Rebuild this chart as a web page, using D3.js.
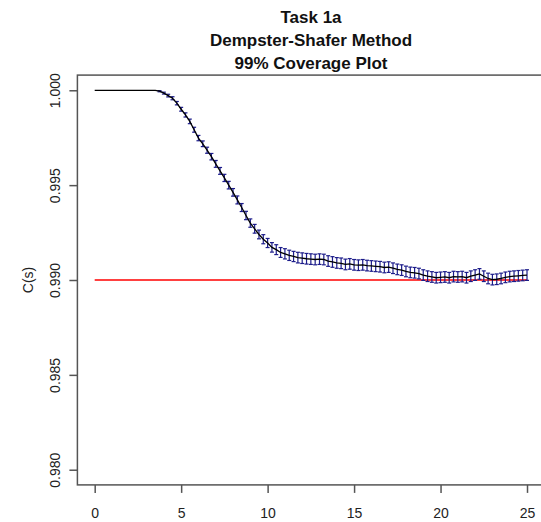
<!DOCTYPE html>
<html>
<head>
<meta charset="utf-8">
<script src="https://cdn.jsdelivr.net/npm/d3@7"></script>
<style>
  body { margin: 0; background: #fff; }
  svg { display: block; font-family: "Liberation Sans", Arial, sans-serif; }
</style>
</head>
<body>
<svg id="chart" width="541" height="522"></svg>
<script>
// coverage values, one every 0.25 from s = 0 to s = 25
var step = 0.25;
var coverage = [
  1.00000, 1.00000, 1.00000, 1.00000, 1.00000, 1.00000, 1.00000, 1.00000,
  1.00000, 1.00000, 1.00000, 1.00000, 1.00000, 1.00000, 1.00000,
  0.99995, 0.99985, 0.99972, 0.99958, 0.99932, 0.99900, 0.99870, 0.99836,
  0.99792, 0.99748, 0.99718, 0.99684, 0.99650, 0.99612, 0.99575, 0.99538,
  0.99500, 0.99462, 0.99422, 0.99382, 0.99340, 0.99300, 0.99270, 0.99240,
  0.99215, 0.99195, 0.99172, 0.99160, 0.99145, 0.99138, 0.99130, 0.99124,
  0.99118, 0.99115, 0.99112, 0.99110, 0.99108, 0.99110, 0.99108, 0.99100,
  0.99095, 0.99090, 0.99088, 0.99082, 0.99085, 0.99080, 0.99078, 0.99080,
  0.99076, 0.99074, 0.99072, 0.99070, 0.99066, 0.99068, 0.99062, 0.99056,
  0.99052, 0.99045, 0.99040, 0.99038, 0.99034, 0.99026, 0.99020, 0.99016,
  0.99012, 0.99014, 0.99016, 0.99012, 0.99018, 0.99016, 0.99018, 0.99012,
  0.99020, 0.99026, 0.99032, 0.99020, 0.99008, 0.99002, 0.99004, 0.99008,
  0.99014, 0.99018, 0.99020, 0.99022, 0.99024, 0.99026
];
// half width of each error bar
var halfWidth = [
  0, 0, 0, 0, 0, 0, 0, 0, 0, 0, 0, 0, 0, 0, 0,
  0.00003, 0.00005, 0.00007, 0.00008, 0.00009, 0.00010, 0.00011, 0.00012,
  0.00013, 0.00014, 0.00015, 0.00016, 0.00017, 0.00018, 0.00018, 0.00019,
  0.00020, 0.00020, 0.00021, 0.00021, 0.00022, 0.00022, 0.00023, 0.00023,
  0.00024, 0.00024, 0.00025, 0.00026, 0.00026, 0.00027, 0.00027, 0.00027,
  0.00028, 0.00028, 0.00028, 0.00028, 0.00028, 0.00028, 0.00028, 0.00028,
  0.00028, 0.00028, 0.00028, 0.00028, 0.00028, 0.00028, 0.00028, 0.00028,
  0.00028, 0.00028, 0.00028, 0.00028, 0.00028, 0.00028, 0.00028, 0.00028,
  0.00028, 0.00028, 0.00028, 0.00028, 0.00028, 0.00028, 0.00028, 0.00028,
  0.00028, 0.00028, 0.00028, 0.00028, 0.00028, 0.00028, 0.00028, 0.00028,
  0.00028, 0.00028, 0.00028, 0.00028, 0.00028, 0.00028, 0.00028, 0.00028,
  0.00028, 0.00028, 0.00028, 0.00028, 0.00028, 0.00028
];
var target = 0.99;
var xTicks = [0, 5, 10, 15, 20, 25];
var yTicks = [0.980, 0.985, 0.990, 0.995, 1.000];
var titleLines = ["Task 1a", "Dempster-Shafer Method", "99% Coverage Plot"];
var yLabel = "C(s)";

var points = coverage.map(function(v, i) {
  return { s: i * step, c: v, e: halfWidth[i] };
});

var svg = d3.select("#chart");
svg.append("rect").attr("width", 541).attr("height", 522).attr("fill", "#fff");

var x = d3.scaleLinear().domain([-1, 26]).range([77.4, 544.3]);
var y = d3.scaleLinear().domain([0.9792, 1.0008]).range([484.9, 75.1]);

var axisColor = "#555";

// box
svg.append("rect")
  .attr("x", x(-1)).attr("y", y(1.0008))
  .attr("width", x(26) - x(-1)).attr("height", y(0.9792) - y(1.0008))
  .attr("fill", "none").attr("stroke", axisColor).attr("stroke-width", 1.5);

var xAxis = svg.append("g")
  .attr("transform", "translate(0," + y(0.9792) + ")")
  .call(d3.axisBottom(x).tickValues(xTicks).tickSize(8).tickPadding(15));
xAxis.select(".domain").remove();
xAxis.selectAll("line").attr("stroke", axisColor).attr("stroke-width", 1.5);
xAxis.selectAll("text").attr("font-size", 14).attr("fill", "#222")
  .attr("font-family", "Liberation Sans, Arial, sans-serif");

var yAxis = svg.append("g")
  .attr("transform", "translate(" + x(-1) + ",0)")
  .call(d3.axisLeft(y).tickValues(yTicks).tickSize(8).tickFormat(d3.format(".3f")));
yAxis.select(".domain").remove();
yAxis.selectAll("line").attr("stroke", axisColor).attr("stroke-width", 1.5);
yAxis.selectAll("text")
  .attr("x", 0).attr("y", -17).attr("dy", 0)
  .attr("transform", "rotate(-90)")
  .attr("text-anchor", "middle")
  .attr("font-size", 14).attr("fill", "#222")
  .attr("font-family", "Liberation Sans, Arial, sans-serif");

// red reference line
svg.append("line")
  .attr("x1", x(0)).attr("x2", x(25))
  .attr("y1", y(target)).attr("y2", y(target))
  .attr("stroke", "#f00").attr("stroke-width", 1.4);

// error bars
var bars = points.filter(function(d) { return d.e > 0; });
var barG = svg.append("g").attr("stroke", "#1c1c8a").attr("stroke-width", 1.2);
barG.selectAll(".v").data(bars).enter().append("line")
  .attr("x1", function(d) { return x(d.s); })
  .attr("x2", function(d) { return x(d.s); })
  .attr("y1", function(d) { return y(d.c - d.e); })
  .attr("y2", function(d) { return y(d.c + d.e); });
barG.selectAll(".t").data(bars).enter().append("line")
  .attr("x1", function(d) { return x(d.s) - 2; })
  .attr("x2", function(d) { return x(d.s) + 2; })
  .attr("y1", function(d) { return y(d.c + d.e); })
  .attr("y2", function(d) { return y(d.c + d.e); });
barG.selectAll(".b").data(bars).enter().append("line")
  .attr("x1", function(d) { return x(d.s) - 2; })
  .attr("x2", function(d) { return x(d.s) + 2; })
  .attr("y1", function(d) { return y(d.c - d.e); })
  .attr("y2", function(d) { return y(d.c - d.e); });

// coverage curve
var line = d3.line()
  .x(function(d) { return x(d.s); })
  .y(function(d) { return y(d.c); });
svg.append("path").datum(points)
  .attr("d", line)
  .attr("fill", "none").attr("stroke", "#000").attr("stroke-width", 1.3);

// title
svg.append("g").selectAll("text").data(titleLines).enter().append("text")
  .attr("x", 311)
  .attr("y", function(d, i) { return 23 + i * 23; })
  .attr("text-anchor", "middle")
  .attr("font-weight", "bold").attr("font-size", 17).attr("fill", "#111")
  .text(function(d) { return d; });

svg.append("text")
  .attr("transform", "translate(33," + y(0.99) + ") rotate(-90)")
  .attr("text-anchor", "middle")
  .attr("font-size", 14).attr("fill", "#222")
  .text(yLabel);
</script>
</body>
</html>
